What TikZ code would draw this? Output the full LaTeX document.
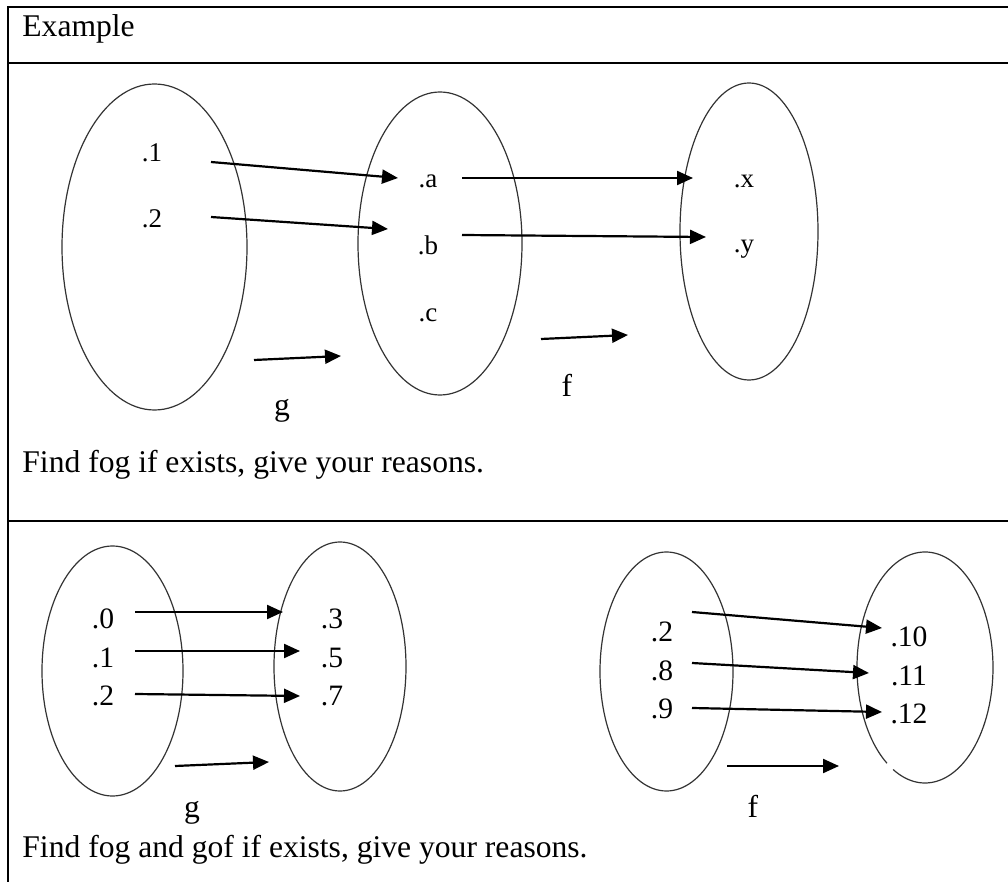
\documentclass[tikz,border=0pt]{standalone}
\usepackage{fontspec}
\setmainfont{Liberation Serif}
\usetikzlibrary{arrows.meta}

\begin{document}
\begin{tikzpicture}[
  x=0.5pt,y=-0.5pt,
  txt/.style={anchor=base west,inner sep=0pt,font=\fontsize{15.8}{19}\selectfont},
  maplabel/.style={anchor=base,inner sep=0pt,font=\fontsize{15.8}{19}\selectfont},
  elem/.style={anchor=base,inner sep=0pt,font=\fontsize{13.5}{16}\selectfont},
  bigelem/.style={anchor=base,inner sep=0pt,font=\fontsize{14.8}{17}\selectfont},
  setshape/.style={line width=0.6pt,draw=black!80},
  tablerule/.style={line width=1.1pt},
  arrow/.style={-{Triangle[length=8pt,width=7pt]},line width=1.1pt}
]
\useasboundingbox (0,0) rectangle (1008,882);

% table
\draw[tablerule] (1008,7) -- (8,7) -- (8,882);
\draw[tablerule] (8,63) -- (1008,63);
\draw[tablerule] (8,521) -- (1008,521);
\node[txt] (title) at (22,36.5) {Example};
\node[txt] (task1) at (22,473) {Find fog if exists, give your reasons.};
\node[txt] (task2) at (22,857) {Find fog and gof if exists, give your reasons.};

% first example: g then f
\draw[setshape] (154.5,247) ellipse [x radius=92.5,y radius=163];
\draw[setshape] (440,243.5) ellipse [x radius=82,y radius=151.5];
\draw[setshape] (749,231.5) ellipse [x radius=69,y radius=148.5];

\node[elem] (one) at (152,162) {.1};
\node[elem] (two) at (152,228) {.2};
\node[elem] (ea) at (428,188) {.a};
\node[elem] (eb) at (428,255) {.b};
\node[elem] (ec) at (428,321.5) {.c};
\node[elem] (ex) at (744,188) {.x};
\node[elem] (ey) at (744,253) {.y};

\coordinate (one-out) at (211,162);
\coordinate (two-out) at (211,217);
\coordinate (a-in) at (398,178);
\coordinate (b-in) at (388,229);
\coordinate (a-out) at (462,178);
\coordinate (b-out) at (462,235);
\coordinate (x-in) at (693,178);
\coordinate (y-in) at (706,237);
\draw[arrow] (one-out) -- (a-in);
\draw[arrow] (two-out) -- (b-in);
\draw[arrow] (a-out) -- (x-in);
\draw[arrow] (b-out) -- (y-in);

\coordinate (g1-from) at (254,360);
\coordinate (g1-to) at (341,356);
\coordinate (f1-from) at (541,339);
\coordinate (f1-to) at (628,335);
\draw[arrow] (g1-from) -- (g1-to);
\draw[arrow] (f1-from) -- (f1-to);
\node[maplabel] (g1) at (282,416) {g};
\node[maplabel] (f1) at (567,397) {f};

% second example: g and f
\draw[setshape] (112.5,671) ellipse [x radius=70.5,y radius=125];
\draw[setshape] (340,666.5) ellipse [x radius=66,y radius=124.5];
\draw[setshape] (666.5,671.5) ellipse [x radius=66.5,y radius=119.5];
\draw[setshape] ([shift={(124:68 and 115.5)}]925,667.5)
  arc [start angle=124,end angle=478,x radius=68,y radius=115.5];

\node[bigelem] (g-zero) at (103,628) {.0};
\node[bigelem] (g-one) at (103,668) {.1};
\node[bigelem] (g-two) at (103,705) {.2};
\node[bigelem] (g-three) at (332,628) {.3};
\node[bigelem] (g-five) at (332,668) {.5};
\node[bigelem] (g-seven) at (332,705) {.7};

\node[bigelem] (f-two) at (662,641.5) {.2};
\node[bigelem] (f-eight) at (662,680) {.8};
\node[bigelem] (f-nine) at (662,718) {.9};
\node[bigelem] (f-ten) at (909,646.5) {.10};
\node[bigelem] (f-eleven) at (909,685) {.11};
\node[bigelem] (f-twelve) at (909,723) {.12};

\coordinate (zero-out) at (135,612);
\coordinate (g1-out) at (135,651);
\coordinate (g2-out) at (135,694);
\coordinate (three-in) at (283,612);
\coordinate (five-in) at (300,651);
\coordinate (seven-in) at (300,696);
\draw[arrow] (zero-out) -- (three-in);
\draw[arrow] (g1-out) -- (five-in);
\draw[arrow] (g2-out) -- (seven-in);

\coordinate (f2-out) at (692,612);
\coordinate (eight-out) at (692,663);
\coordinate (nine-out) at (692,708);
\coordinate (ten-in) at (882,628);
\coordinate (eleven-in) at (869,673);
\coordinate (twelve-in) at (882,712);
\draw[arrow] (f2-out) -- (ten-in);
\draw[arrow] (eight-out) -- (eleven-in);
\draw[arrow] (nine-out) -- (twelve-in);

\coordinate (g2-from) at (175,766);
\coordinate (g2-to) at (269,762);
\coordinate (f2-from) at (727,766);
\coordinate (f2-to) at (839,766);
\draw[arrow] (g2-from) -- (g2-to);
\draw[arrow] (f2-from) -- (f2-to);
\node[maplabel] (g2) at (192,817) {g};
\node[maplabel] (f2) at (753,817) {f};
\end{tikzpicture}
\end{document}
